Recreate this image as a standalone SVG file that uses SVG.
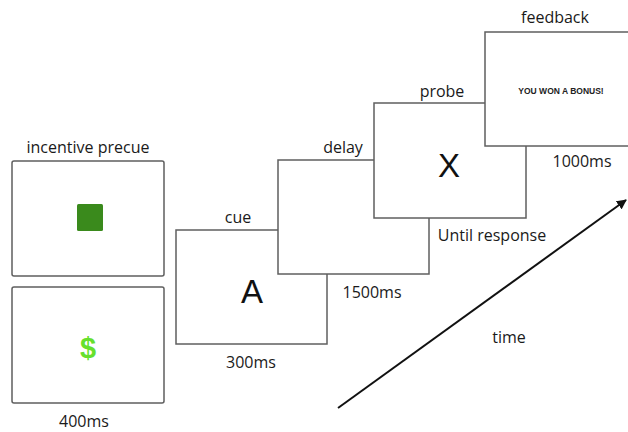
<svg xmlns="http://www.w3.org/2000/svg" width="628" height="432" viewBox="0 0 628 432">
  <style>
    .frame { fill: #ffffff; stroke: #5f5f5f; stroke-width: 1.5; }
    .lbl { font-family: "Open Sans", "Liberation Sans", sans-serif; font-size: 16px; fill: #1a1a1a; text-anchor: middle; }
    .big { font-family: "Liberation Sans", sans-serif; font-size: 33px; fill: #111111; text-anchor: middle; }
  </style>
  <defs>
    <marker id="arrowhead" viewBox="0 0 10 10" refX="9" refY="5" markerWidth="5" markerHeight="5" orient="auto">
      <path d="M0,0 L10,5 L0,10 z" fill="#111111"/>
    </marker>
  </defs>
  <rect width="628" height="432" fill="#ffffff"/>

  <!-- incentive precue: two stacked screens -->
  <g id="precue">
    <text class="lbl" x="88" y="153">incentive precue</text>
    <rect class="frame" x="12" y="161" width="152" height="115" rx="2"/>
    <rect x="77" y="204" width="26" height="27" rx="1.5" fill="#3a8a1c"/>
    <rect class="frame" x="12" y="287" width="152" height="116" rx="2"/>
    <text x="88" y="358" font-family="Liberation Sans, sans-serif" font-weight="bold" font-size="29" fill="#66e02c" text-anchor="middle">$</text>
    <text class="lbl" x="84" y="427">400ms</text>
  </g>

  <!-- cue screen -->
  <g id="cue">
    <text class="lbl" x="238" y="223">cue</text>
    <rect class="frame" x="176" y="230" width="151" height="114"/>
    <text class="big" x="252" y="303">A</text>
    <text class="lbl" x="251" y="368">300ms</text>
  </g>

  <!-- delay screen -->
  <g id="delay">
    <text class="lbl" x="343" y="153">delay</text>
    <rect class="frame" x="278" y="160" width="151" height="114"/>
    <text class="lbl" x="372" y="298">1500ms</text>
  </g>

  <!-- probe screen -->
  <g id="probe">
    <text class="lbl" x="442" y="97">probe</text>
    <rect class="frame" x="374" y="103" width="152" height="115"/>
    <text class="big" x="449" y="177">X</text>
    <text class="lbl" x="492" y="241">Until response</text>
  </g>

  <!-- feedback screen -->
  <g id="feedback">
    <text class="lbl" x="555" y="23">feedback</text>
    <rect class="frame" x="485" y="32" width="150" height="114"/>
    <text x="561" y="94" font-family="Liberation Sans, sans-serif" font-weight="bold" font-size="8.5" fill="#222222" text-anchor="middle">YOU WON A BONUS!</text>
    <text class="lbl" x="582" y="167">1000ms</text>
  </g>

  <!-- time axis -->
  <g id="connectors">
    <line x1="338" y1="408" x2="626" y2="200" stroke="#111111" stroke-width="2" marker-end="url(#arrowhead)"/>
  </g>
  <text class="lbl" x="509" y="343">time</text>
</svg>
